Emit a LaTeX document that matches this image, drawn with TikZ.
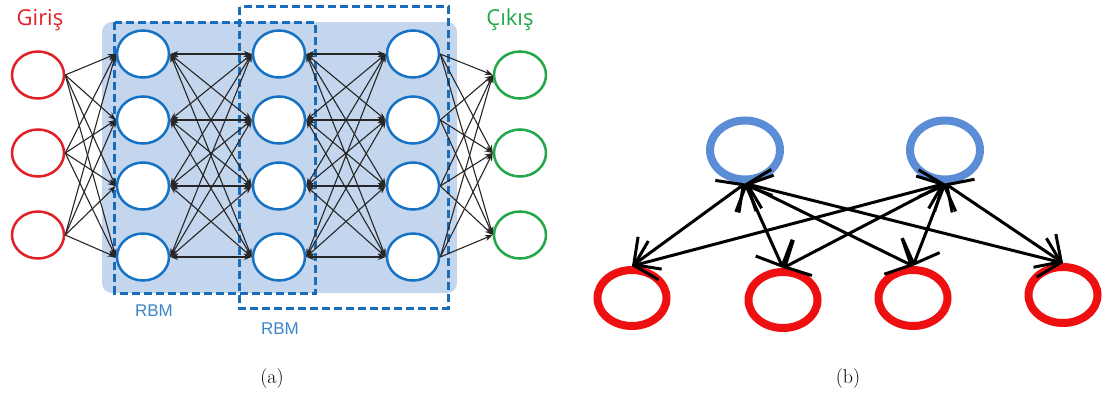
\documentclass[tikz,border=0pt]{standalone}
\usepackage{fontspec}
\usetikzlibrary{arrows.meta,shapes.geometric}
\newfontfamily\labelfont{Open Sans}
\newfontfamily\rbmfont{Liberation Sans}
\definecolor{inred}{RGB}{226,32,40}
\definecolor{outgreen}{RGB}{34,168,74}
\definecolor{hidblue}{RGB}{22,114,196}
\definecolor{boxblue}{RGB}{24,108,186}
\definecolor{stackblue}{RGB}{196,214,237}
\definecolor{rbmtext}{RGB}{58,134,200}
\definecolor{topblue}{RGB}{91,141,214}
\definecolor{botred}{RGB}{238,16,16}
\begin{document}
\begin{tikzpicture}[x=1pt,y=-1pt,
  unit/.style={ellipse, draw, line width=2.5pt, fill=white,
    minimum width=52pt, minimum height=47pt, inner sep=0pt},
  inunit/.style={unit, draw=inred},
  hidunit/.style={unit, draw=hidblue},
  outunit/.style={unit, draw=outgreen},
  fwd/.style={line width=1.1pt, draw=black!85,
    -{Stealth[length=8pt,width=6pt]}},
  bidir/.style={line width=1.1pt, draw=black!85,
    {Stealth[length=8pt,width=6pt]}-{Stealth[length=8pt,width=6pt]}},
  rbmbox/.style={draw=boxblue, line width=3pt, dash pattern=on 8pt off 4pt},
  rbmlabel/.style={text=rbmtext, font=\rbmfont\fontsize{17}{19}\selectfont},
  toplabel/.style={font=\labelfont\fontsize{22}{24}\selectfont},
  caption/.style={font=\fontsize{20}{24}\selectfont},
  topunit/.style={ellipse, draw=topblue, line width=8pt, fill=white,
    minimum width=70pt, minimum height=59pt, inner sep=0pt},
  botunit/.style={ellipse, draw=botred, line width=8pt, fill=white,
    minimum width=69pt, minimum height=56pt, inner sep=0pt},
  barb/.tip={Straight Barb[length=20pt,width=40pt,line width=3pt]},
  link/.style={line width=3pt, draw=black, barb-barb}
]
\useasboundingbox (0,0) rectangle (1107,399);

% ---------- (a) deep belief network ----------
% shaded stack of hidden layers and the two RBM boxes
\fill[stackblue, rounded corners=10pt] (102,22) rectangle (457,293);
\draw[rbmbox] (114.5,22) rectangle (315,293);
\draw[rbmbox] (239.5,6.5) rectangle (448,308);

% input layer
\foreach \i/\y in {1/75,2/153,3/235}
  \node[inunit] (in\i) at (38,\y) {};
% hidden layers
\foreach \j/\y in {1/54,2/120,3/186,4/257} {
  \node[hidunit] (ha\j) at (143,\y) {};
  \node[hidunit] (hb\j) at (279,\y) {};
  \node[hidunit] (hc\j) at (413,\y) {};
}
% output layer
\foreach \i/\y in {1/75,2/153,3/235}
  \node[outunit] (out\i) at (520,\y) {};

% connections
\foreach \i in {1,2,3}
  \foreach \j in {1,...,4}
    \draw[fwd] (in\i.east) -- (ha\j.west);
\foreach \i in {1,...,4}
  \foreach \j in {1,...,4} {
    \draw[bidir] (ha\i.east) -- (hb\j.west);
    \draw[bidir] (hb\i.east) -- (hc\j.west);
  }
\foreach \i in {1,...,4}
  \foreach \j in {1,2,3}
    \draw[fwd] (hc\i.east) -- (out\j.west);

% labels
\node[toplabel, text=inred] (giris) at (40,20) {Giriş};
\node[toplabel, text=outgreen] (cikis) at (510,20) {Çıkış};
\node[rbmlabel] (rbma) at (154,311) {RBM};
\node[rbmlabel] (rbmb) at (280,329) {RBM};
\node[caption] (capa) at (272,379) {(a)};

% ---------- (b) restricted Boltzmann machine ----------
\node[topunit] (t1) at (745,150) {};
\node[topunit] (t2) at (945,150) {};
\node[botunit] (b1) at (632,298) {};
\node[botunit] (b2) at (783,300) {};
\node[botunit] (b3) at (913,298) {};
\node[botunit] (b4) at (1063,295) {};
\foreach \t in {t1,t2}
  \foreach \b in {b1,b2,b3,b4}
    \draw[link] (\t.south) -- (\b.north);

\node[caption] (capb) at (848,379) {(b)};
\end{tikzpicture}
\end{document}
